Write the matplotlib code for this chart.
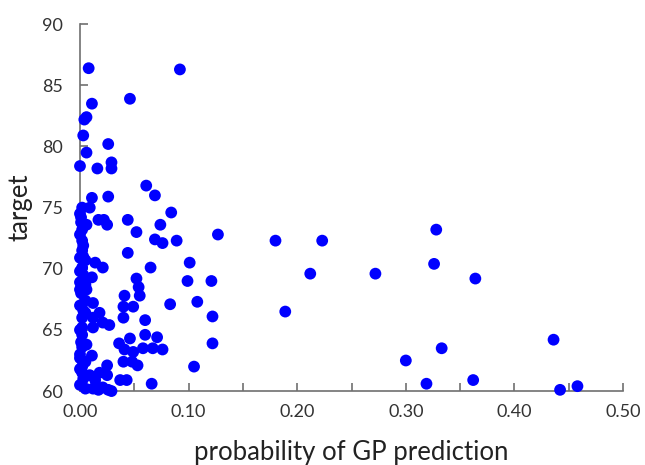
import matplotlib
matplotlib.use("Agg")
import matplotlib.pyplot as plt

# probability of GP prediction (x) vs target (y)
prob = [
    0.008, 0.092, 0.046, 0.011, 0.004, 0.006, 0.003, 0.006, 0.026, 0.029,
    0.029, 0.000, 0.016, 0.061, 0.069, 0.011, 0.026, 0.002, 0.009, 0.001,
    0.006, 0.017, 0.022, 0.025, 0.044, 0.084, 0.052, 0.074, 0.069, 0.076,
    0.089, 0.002, 0.002, 0.003, 0.002, 0.044, 0.000, 0.005, 0.014, 0.021,
    0.065, 0.002, 0.003, 0.011, 0.000, 0.005, 0.052, 0.054, 0.101, 0.099,
    0.127, 0.121, 0.108, 0.122, 0.122, 0.105, 0.180, 0.223, 0.212, 0.272,
    0.189, 0.328, 0.326, 0.364, 0.436, 0.333, 0.300, 0.319, 0.362, 0.442,
    0.458,
    0.000, 0.006, 0.005, 0.012, 0.003, 0.005, 0.041, 0.055, 0.040, 0.049,
    0.083, 0.018, 0.012, 0.040, 0.060, 0.021, 0.027, 0.002, 0.002, 0.012,
    0.046, 0.060, 0.071, 0.036, 0.041, 0.049, 0.058, 0.067, 0.076, 0.002,
    0.006, 0.011, 0.000, 0.005, 0.002, 0.040, 0.048, 0.053, 0.025, 0.018,
    0.025, 0.002, 0.009, 0.014, 0.037, 0.043, 0.066, 0.000, 0.005, 0.012,
    0.017, 0.021, 0.026, 0.029,
    0.000, 0.001, 0.000, 0.003, 0.000, 0.001, 0.000, 0.002, 0.000, 0.001,
    0.000, 0.003, 0.000,
]
target = [
    86.4, 86.3, 83.9, 83.5, 82.2, 82.4, 80.9, 79.5, 80.2, 78.7,
    78.2, 78.4, 78.2, 76.8, 76.0, 75.8, 75.9, 75.0, 75.0, 73.8,
    73.6, 74.0, 74.0, 73.6, 74.0, 74.6, 73.0, 73.6, 72.4, 72.1,
    72.3, 73.2, 72.3, 71.9, 71.5, 71.3, 70.9, 70.7, 70.5, 70.1,
    70.1, 70.1, 69.5, 69.3, 68.9, 68.7, 69.2, 68.5, 70.5, 69.0,
    72.8, 69.0, 67.3, 66.1, 63.9, 62.0, 72.3, 72.3, 69.6, 69.6,
    66.5, 73.2, 70.4, 69.2, 64.2, 63.5, 62.5, 60.6, 60.9, 60.1,
    60.4,
    68.3, 68.3, 67.4, 67.2, 66.6, 66.4, 67.8, 67.8, 66.9, 66.9,
    67.1, 66.4, 66.0, 66.0, 65.8, 65.6, 65.4, 65.2, 64.6, 65.2,
    64.3, 64.6, 64.4, 63.9, 63.4, 63.2, 63.5, 63.5, 63.4, 63.6,
    63.8, 62.9, 62.7, 62.4, 62.0, 62.4, 62.4, 62.1, 62.1, 61.5,
    61.3, 61.5, 61.3, 60.9, 60.9, 60.9, 60.6, 60.5, 60.2, 60.2,
    60.1, 60.3, 60.1, 60.0,
    74.5, 74.2, 72.8, 71.0, 69.8, 68.0, 67.0, 66.0, 65.0, 64.0,
    63.0, 61.0, 61.8,
]

xticks = [0.0, 0.1, 0.2, 0.3, 0.4, 0.5]
xtick_labels = ["0.00", "0.10", "0.20", "0.30", "0.40", "0.50"]
yticks = [60, 65, 70, 75, 80, 85, 90]

plt.rcParams["font.family"] = ["Lato", "DejaVu Sans"]

fig = plt.figure(figsize=(6.45, 4.65), dpi=100)
ax = fig.add_axes([0.124, 0.159, 0.842, 0.789])

ax.scatter(prob, target, s=72, color="#0000ff", edgecolors="none",
           zorder=3, clip_on=False)

ax.set_xlim(0, 0.5)
ax.set_ylim(60, 90)
ax.set_xticks(xticks)
ax.set_xticklabels(xtick_labels)
ax.set_xticks([0.05, 0.15, 0.25, 0.35, 0.45], minor=True)
ax.set_yticks(yticks)

for side in ["top", "right"]:
    ax.spines[side].set_visible(False)
for side in ["left", "bottom"]:
    ax.spines[side].set_color("#707070")
    ax.spines[side].set_linewidth(1.2)

ax.tick_params(axis="both", which="both", direction="in", color="#707070",
               width=1.2, labelsize=13, labelcolor="#333333")
ax.tick_params(axis="both", which="major", length=6)
ax.tick_params(axis="x", which="minor", length=6)
ax.tick_params(axis="x", pad=9)
ax.tick_params(axis="y", pad=12)

ax.set_xlabel("probability of GP prediction", fontsize=18.5, color="#222222",
              labelpad=15)
ax.set_ylabel("target", fontsize=18.5, color="#222222", labelpad=7)

fig.savefig("out.png", dpi=100)
